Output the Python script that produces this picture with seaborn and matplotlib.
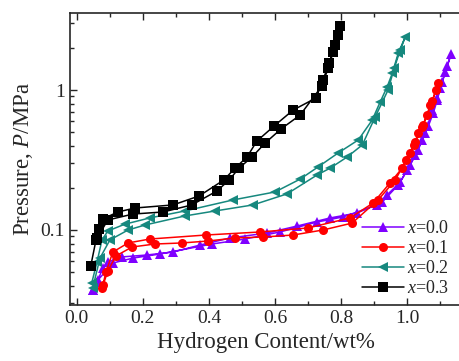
import numpy as np
import pandas as pd
import matplotlib
matplotlib.use("Agg")
import matplotlib.pyplot as plt
import matplotlib.ticker as mticker
import seaborn as sns

# hydrogen content (wt%) and pressure (MPa): absorption then desorption
x00_h = [0.048, 0.061, 0.079, 0.094, 0.136, 0.212, 0.291, 0.373, 0.464, 0.576, 0.667, 0.767,
         0.848, 0.924, 0.973, 1.000, 1.024, 1.045, 1.064, 1.079, 1.091, 1.100, 1.115, 1.133,
         1.121, 1.106, 1.091, 1.076, 1.055, 1.033, 1.009, 0.979, 0.939, 0.909, 0.806, 0.727,
         0.615, 0.509, 0.409, 0.252, 0.170, 0.109, 0.064, 0.048]
x00_p = [0.0373, 0.0425, 0.0535, 0.0591, 0.0642, 0.0663, 0.0696, 0.0781, 0.0877, 0.0952, 0.1068, 0.122,
         0.1322, 0.158, 0.210, 0.268, 0.343, 0.440, 0.553, 0.685, 0.848, 1.03, 1.34, 1.81,
         1.48, 1.14, 0.877, 0.720, 0.493, 0.373, 0.291, 0.220, 0.178, 0.151, 0.124, 0.114,
         0.0968, 0.0862, 0.0794, 0.0674, 0.0630, 0.0581, 0.0439, 0.0373]

x01_h = [0.079, 0.088, 0.109, 0.155, 0.221, 0.391, 0.555, 0.700, 0.827, 0.897, 0.948, 0.985,
         1.009, 1.024, 1.033, 1.045, 1.061, 1.076, 1.094,
         1.088, 1.070, 1.048, 1.021, 0.997, 0.964, 0.912, 0.833, 0.745, 0.655, 0.564, 0.479,
         0.397, 0.318, 0.236, 0.167, 0.118, 0.094, 0.076]
x01_p = [0.0405, 0.0501, 0.0696, 0.0808, 0.0862, 0.0921, 0.0968, 0.1034, 0.122, 0.156, 0.217, 0.277,
         0.355, 0.425, 0.493, 0.544, 0.663, 0.834, 1.12,
         1.00, 0.782, 0.562, 0.405, 0.316, 0.2276, 0.164, 0.112, 0.100, 0.0921, 0.0891, 0.0877,
         0.0834, 0.0808, 0.0794, 0.0756, 0.0652, 0.0509, 0.0385]

x02_h = [0.045, 0.061, 0.076, 0.094, 0.145, 0.221, 0.327, 0.473, 0.600, 0.676, 0.730, 0.791,
         0.852, 0.894, 0.918, 0.939, 0.955, 0.973, 0.994,
         0.979, 0.961, 0.942, 0.903, 0.864, 0.818, 0.767, 0.727, 0.636, 0.533, 0.418, 0.327,
         0.206, 0.155, 0.100, 0.070, 0.048]
x02_p = [0.0418, 0.0591, 0.0849, 0.0984, 0.110, 0.122, 0.1367, 0.164, 0.187, 0.231, 0.282, 0.355,
         0.440, 0.610, 0.820, 1.05, 1.32, 1.84, 2.39,
         1.93, 1.44, 1.00, 0.641, 0.405, 0.332, 0.277, 0.247, 0.181, 0.151, 0.1367, 0.126,
         0.1085, 0.100, 0.0849, 0.063, 0.0385]

x03_h = [0.042, 0.058, 0.067, 0.079, 0.124, 0.176, 0.291, 0.370, 0.445, 0.479, 0.515, 0.545,
         0.597, 0.655, 0.724, 0.745, 0.764, 0.782, 0.797,
         0.791, 0.776, 0.761, 0.742, 0.676, 0.618, 0.570, 0.530, 0.491, 0.461, 0.424, 0.348,
         0.261, 0.170, 0.094, 0.061]
x03_p = [0.0553, 0.0849, 0.1016, 0.120, 0.1345, 0.1436, 0.151, 0.175, 0.2276, 0.277, 0.332, 0.432,
         0.553, 0.720, 0.877, 1.18, 1.56, 2.10, 2.86,
         2.47, 1.87, 1.44, 1.07, 0.663, 0.527, 0.418, 0.332, 0.277, 0.2276, 0.190, 0.151,
         0.1345, 0.130, 0.118, 0.0877]

labels = ["0.0", "0.1", "0.2", "0.3"]
colors = ["#7f00ff", "#ff0000", "#16887e", "#000000"]
markers = ["^", "o", "<", "s"]

sns.set_style("ticks")
plt.rcParams['font.family'] = ['Liberation Serif', 'DejaVu Serif']
plt.rcParams['mathtext.fontset'] = 'custom'
plt.rcParams['mathtext.rm'] = 'Liberation Serif'
plt.rcParams['mathtext.it'] = 'Liberation Serif:italic'

fig = plt.figure(figsize=(4.6, 3.61), dpi=100)
ax = fig.add_axes([0.152, 0.155, 0.851, 0.809])

series = [(x00_h, x00_p), (x01_h, x01_p), (x02_h, x02_p), (x03_h, x03_p)]
for (h, p), lab, c, m in zip(series, labels, colors, markers):
    df = pd.DataFrame({"h": h, "p": p})
    sns.lineplot(data=df, x="h", y="p", sort=False, estimator=None, ax=ax,
                 color=c, marker=m, markersize=6.5, markeredgewidth=0,
                 linewidth=1.1, label=f"$x$=" + lab)

ax.set_yscale("log")
ax.set_xlim(-0.021, 1.164)
ax.set_ylim(0.0291, 3.55)

ax.xaxis.set_major_locator(mticker.MultipleLocator(0.2))
ax.xaxis.set_minor_locator(mticker.MultipleLocator(0.1))
ax.xaxis.set_major_formatter(mticker.FormatStrFormatter("%.1f"))
ax.yaxis.set_major_locator(mticker.FixedLocator([0.1, 1]))
ax.yaxis.set_major_formatter(mticker.FixedFormatter(["0.1", "1"]))
ax.yaxis.set_minor_locator(mticker.LogLocator(base=10, subs=np.arange(2, 10)))
ax.yaxis.set_minor_formatter(mticker.NullFormatter())

ax.tick_params(which="both", direction="in", top=True, right=False, width=1)
ax.tick_params(which="major", length=5, labelsize=14)
ax.tick_params(which="minor", length=3)
for s in ax.spines.values():
    s.set_linewidth(1.2)

ax.set_xlabel("Hydrogen Content/wt%", fontsize=16.5)
ax.set_ylabel("Pressure, $\\it{P}$/MPa", fontsize=16.5)

leg = ax.legend(loc="lower right", bbox_to_anchor=(1.0, -0.016), frameon=False,
                fontsize=13, handlelength=2.3, handletextpad=0.15, labelspacing=0.17,
                borderpad=0.2)

fig.savefig("out.png", dpi=100)
